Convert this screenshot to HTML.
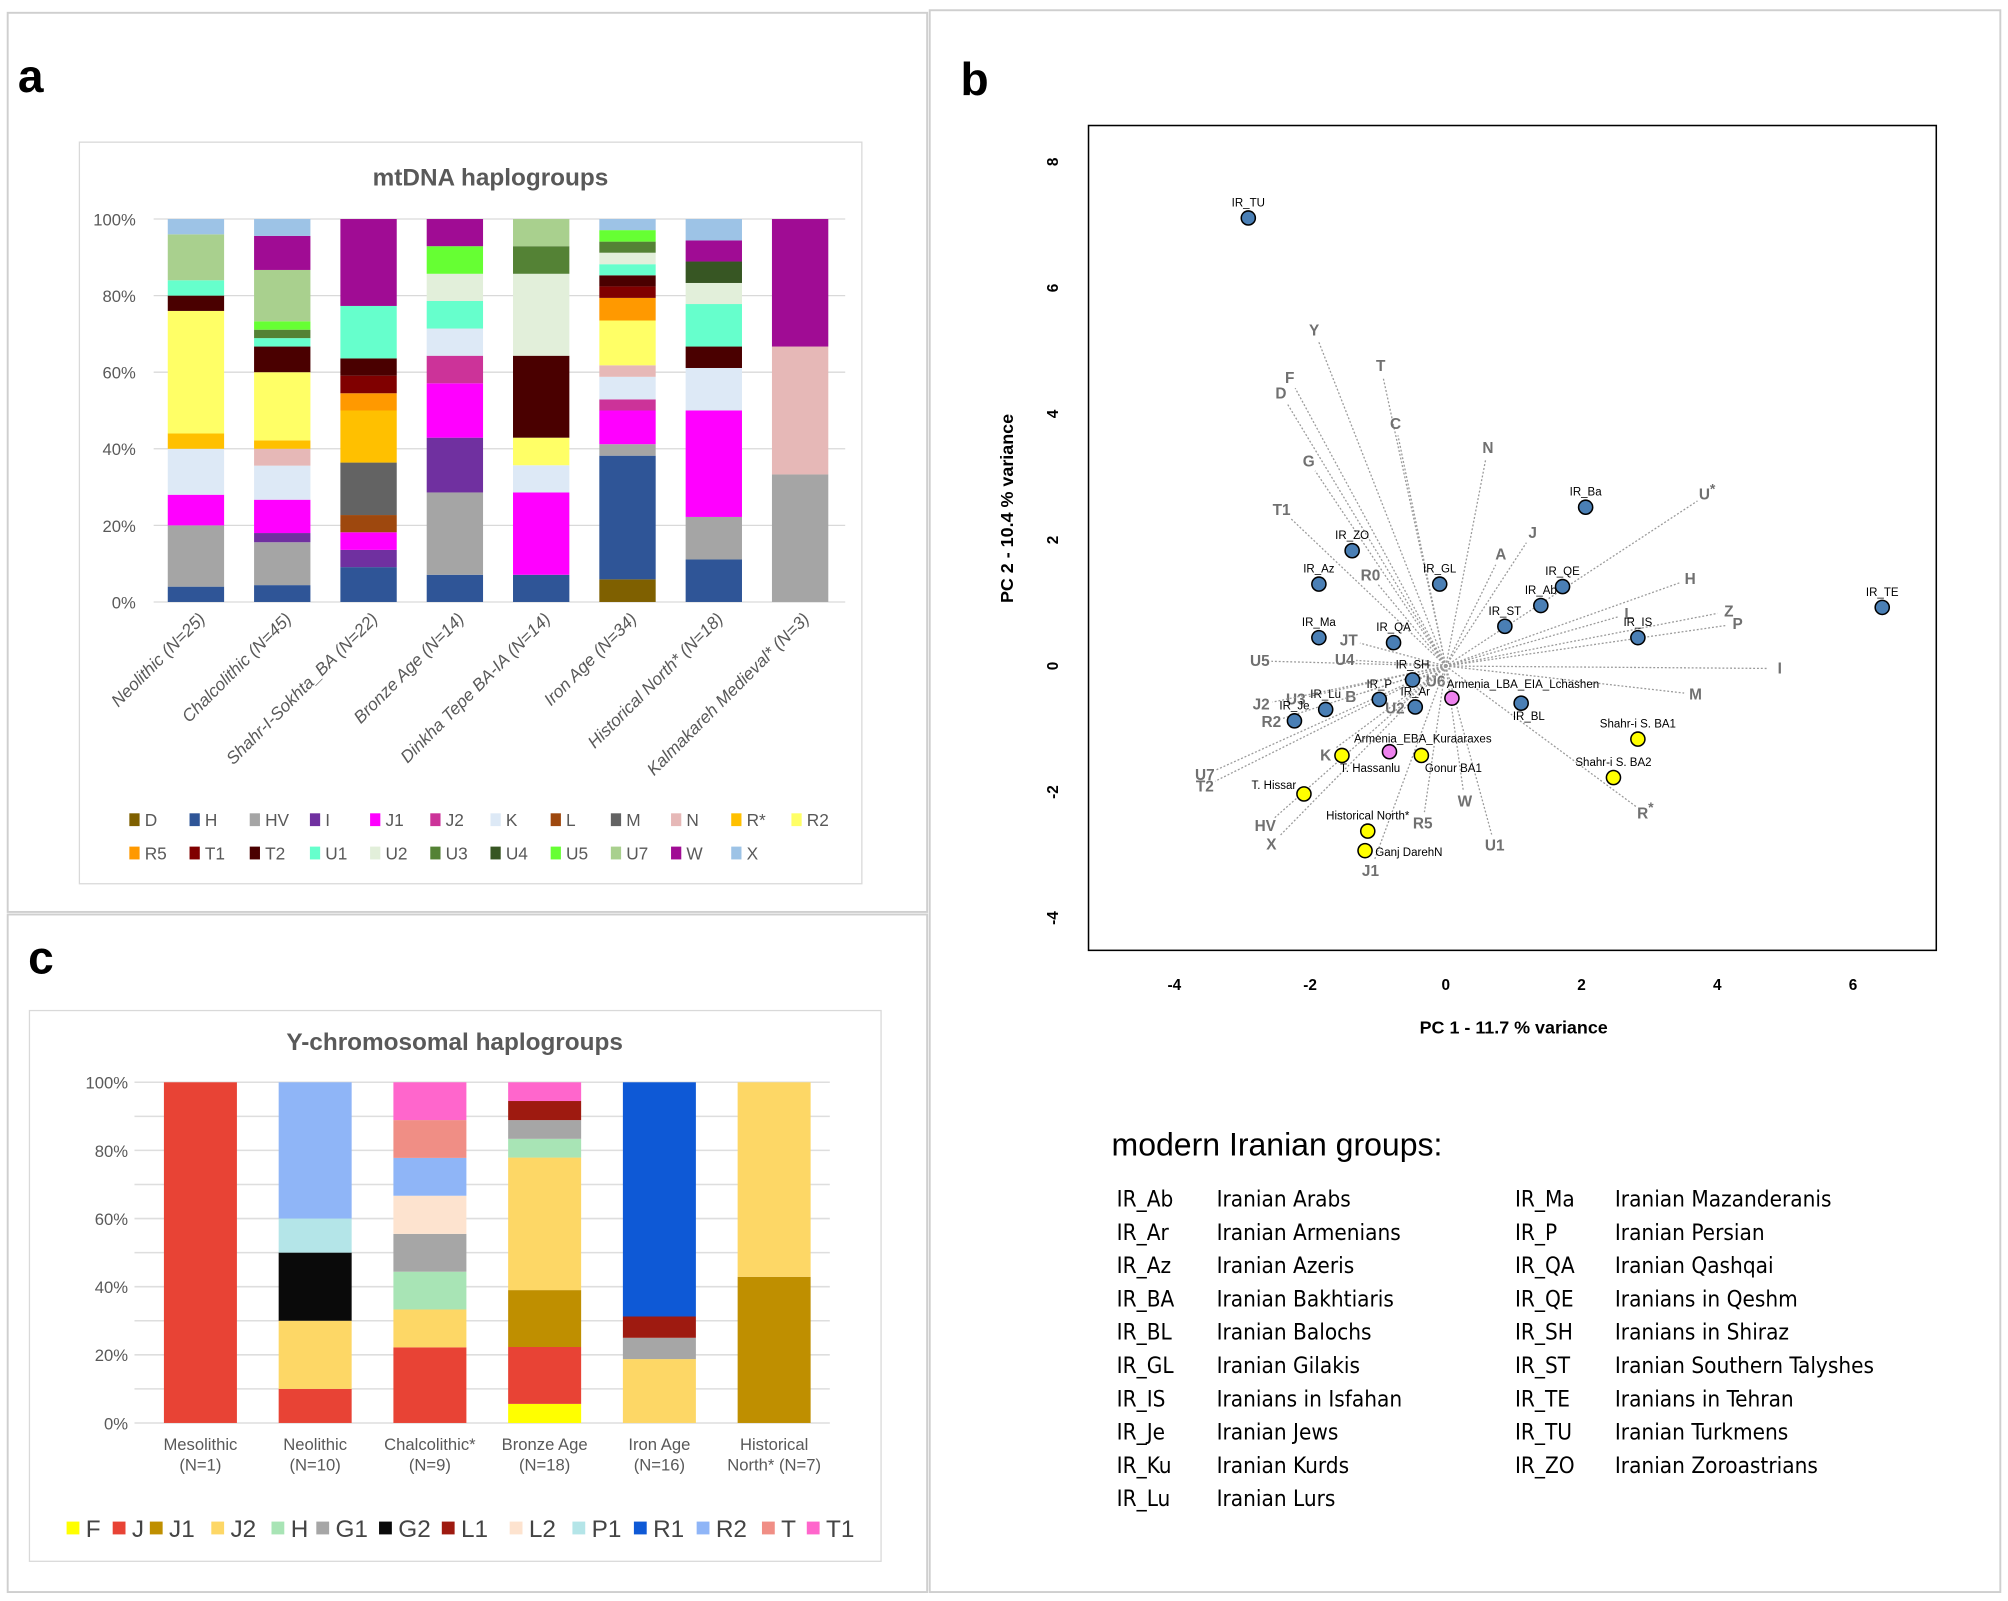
<!DOCTYPE html>
<html><head><meta charset="utf-8">
<style>
html,body{margin:0;padding:0;background:#fff;}
svg{display:block;font-family:"Liberation Sans",sans-serif;}
</style></head>
<body>
<svg id="fig" width="2008" height="1601" viewBox="0 0 1568 1250" preserveAspectRatio="none" xmlns="http://www.w3.org/2000/svg">
<rect x="0" y="0" width="1568" height="1250" fill="#fff"/>
<rect x="6" y="10" width="718" height="702" fill="none" stroke="#cfcfcf" stroke-width="1.5"/>
<rect x="6" y="714" width="718" height="529" fill="none" stroke="#cfcfcf" stroke-width="1.5"/>
<rect x="726" y="8" width="836" height="1235" fill="none" stroke="#cfcfcf" stroke-width="1.5"/>
<text x="14" y="72" font-size="36" font-weight="bold">a</text>
<text x="750" y="74" font-size="36" font-weight="bold">b</text>
<text x="22" y="760" font-size="36" font-weight="bold">c</text>
<rect x="62" y="111" width="611" height="579" fill="#fff" stroke="#d9d9d9"/>
<text x="383" y="145" font-size="19" font-weight="bold" fill="#595959" text-anchor="middle">mtDNA haplogroups</text>
<rect x="23" y="789" width="665" height="430" fill="#fff" stroke="#d9d9d9"/>
<text x="355" y="820" font-size="19" font-weight="bold" fill="#595959" text-anchor="middle">Y-chromosomal haplogroups</text>
<g id="ga"></g><g id="gc"></g><g id="gb"></g>
<rect x="850" y="98" width="662" height="644" fill="none" stroke="#000" stroke-width="1.2"/>
<text x="1182" y="807" font-size="14" font-weight="bold" text-anchor="middle">PC 1 -  11.7 % variance</text>
<text x="791" y="397" font-size="14" font-weight="bold" text-anchor="middle" transform="rotate(-90 791 397)">PC 2 -  10.4 % variance</text>
<text x="868" y="902" font-size="25">modern Iranian groups:</text>
<g id="gl"></g>
</svg>
<script>
const NS='http://www.w3.org/2000/svg';
function mk(tag,attrs,parent,txt){const e=document.createElementNS(NS,tag);for(const k in attrs)e.setAttribute(k,attrs[k]);if(txt!==undefined)e.textContent=txt;parent.appendChild(e);return e;}

// ---------- Panel a data ----------
const mtCategories=['Neolithic (N=25)','Chalcolithic (N=45)','Shahr-I-Sokhta_BA (N=22)','Bronze Age (N=14)','Dinkha Tepe BA-IA (N=14)','Iron Age (N=34)','Historical North* (N=18)','Kalmakareh Medieval* (N=3)'];
const mtGroups=['D','H','HV','I','J1','J2','K','L','M','N','R*','R2','R5','T1','T2','U1','U2','U3','U4','U5','U7','W','X'];
const mtColors=['#7f6000','#2f5597','#a5a5a5','#7030a0','#ff00ff','#cc3399','#dde9f6','#9e480e','#636363','#e6b8b7','#ffc000','#ffff66','#ff9900','#800000','#4a0000','#66ffcc','#e2efda','#548235','#375623','#66ff33','#a9d08e','#a00c94','#9dc3e6'];
const mtValues=[
[0,0,0,0,0,5.9,0,0],
[4,4.4,9.1,7.1,7.1,32.3,11.1,0],
[16,11.2,0,21.5,0,3,11.1,33.3],
[0,2.4,4.5,14.3,0,0,0,0],
[8,8.7,4.6,14.2,21.5,8.8,27.8,0],
[0,0,0,7.2,0,2.9,0,0],
[12,8.9,0,7.1,7.1,5.9,11.1,0],
[0,0,4.5,0,0,0,0,0],
[0,0,13.7,0,0,0,0,0],
[0,4.4,0,0,0,3,0,33.4],
[4,2.2,13.6,0,0,0,0,0],
[32,17.8,0,0,7.2,11.7,0,0],
[0,0,4.5,0,0,5.9,0,0],
[0,0,4.6,0,0,3,0,0],
[4,6.7,4.5,0,21.4,2.9,5.6,0],
[4,2.2,13.7,7.2,0,2.9,11.1,0],
[0,0,0,7.1,21.4,3,5.5,0],
[0,2.2,0,0,7.2,2.9,0,0],
[0,0,0,0,0,0,5.6,0],
[0,2.2,0,7.2,0,3,0,0],
[12,13.4,0,0,7.1,0,0,0],
[0,8.9,22.7,7.1,0,0,5.5,33.3],
[4,4.4,0,0,0,2.9,5.6,0]];
const mtTicks=['0%','20%','40%','60%','80%','100%'];

// ---------- Panel c data ----------
const yCategories=[['Mesolithic','(N=1)'],['Neolithic','(N=10)'],['Chalcolithic*','(N=9)'],['Bronze Age','(N=18)'],['Iron Age','(N=16)'],['Historical','North* (N=7)']];
const yGroups=['F','J','J1','J2','H','G1','G2','L1','L2','P1','R1','R2','T','T1'];
const yColors=['#ffff00','#e84335','#bf8f00','#fdd766','#a8e4b5','#a6a6a6','#0a0a0a','#9e1a10','#fde3cf','#b4e5e8','#0e59d6','#8fb5f7','#f08e85','#ff66cc'];
const yValues=[
[0,0,0,5.6,0,0],
[100,10,22.2,16.7,0,0],
[0,0,0,16.7,0,42.9],
[0,20,11.1,38.9,18.75,57.1],
[0,0,11.1,5.5,0,0],
[0,0,11.1,5.5,6.25,0],
[0,20,0,0,0,0],
[0,0,0,5.6,6.25,0],
[0,0,11.2,0,0,0],
[0,10,0,0,0,0],
[0,0,0,0,68.75,0],
[0,40,11.1,0,0,0],
[0,0,11.1,0,0,0],
[0,0,11.1,5.5,0,0]];
const yTicks=['0%','20%','40%','60%','80%','100%'];

// ---------- Panel b data ----------
const popNames=['IR_TU','IR_Ba','IR_ZO','IR_Az','IR_GL','IR_QE','IR_Ab','IR_ST','IR_IS','IR_TE','IR_Ma','IR_QA','IR_SH','IR_P','IR_Ar','IR_Lu','IR_Je','IR_BL','Armenia_LBA_EIA_Lchashen','Armenia_EBA_Kuraaraxes','Shahr-i S. BA1','Shahr-i S. BA2','T. Hassanlu','Gonur BA1','T. Hissar','Historical North*','Ganj DarehN'];
const popPC1=[-2.91,2.06,-1.38,-1.87,-0.09,1.72,1.40,0.87,2.83,6.43,-1.87,-0.77,-0.49,-0.98,-0.45,-1.77,-2.23,1.11,0.09,-0.83,2.83,2.47,-1.53,-0.36,-2.09,-1.15,-1.19];
const popPC2=[7.11,2.52,1.83,1.30,1.30,1.26,0.96,0.63,0.45,0.93,0.45,0.37,-0.22,-0.53,-0.65,-0.69,-0.87,-0.59,-0.51,-1.36,-1.16,-1.77,-1.42,-1.42,-2.03,-2.62,-2.93];
const popType=['m','m','m','m','m','m','m','m','m','m','m','m','m','m','m','m','m','m','a','a','y','y','y','y','y','y','y'];
const loadNames=['Y','T','F','D','C','N','G','T1','U*','J','A','R0','H','L','Z','P','JT','U5','U4','I','U6','M','B','U3','J2','U2','R2','K','U7','T2','W','R*','R5','HV','X','U1','J1'];
const loadPC1=[-1.94,-0.96,-2.30,-2.43,-0.74,0.62,-2.02,-2.42,3.85,1.28,0.81,-1.11,3.60,2.70,4.17,4.30,-1.43,-2.74,-1.49,4.92,-0.15,3.68,-1.40,-2.21,-2.72,-0.75,-2.57,-1.77,-3.55,-3.55,0.28,2.94,-0.34,-2.66,-2.57,0.72,-1.11];
const loadPC2=[5.33,4.76,4.57,4.33,3.84,3.46,3.25,2.48,2.72,2.11,1.77,1.44,1.38,0.83,0.87,0.67,0.41,0.08,0.10,-0.04,-0.24,-0.45,-0.49,-0.53,-0.61,-0.67,-0.89,-1.42,-1.73,-1.91,-2.15,-2.34,-2.50,-2.54,-2.83,-2.85,-3.25];
const xTickVals=[-4,-2,0,2,4,6];
const yTickVals=[-4,-2,0,2,4,6,8];

const groupCodes=['IR_Ab','IR_Ar','IR_Az','IR_BA','IR_BL','IR_GL','IR_IS','IR_Je','IR_Ku','IR_Lu','IR_Ma','IR_P','IR_QA','IR_QE','IR_SH','IR_ST','IR_TE','IR_TU','IR_ZO'];
const groupNames=['Iranian Arabs','Iranian Armenians','Iranian Azeris','Iranian Bakhtiaris','Iranian Balochs','Iranian Gilakis','Iranians in Isfahan','Iranian Jews','Iranian Kurds','Iranian Lurs','Iranian Mazanderanis','Iranian Persian','Iranian Qashqai','Iranians in Qeshm','Iranians in Shiraz','Iranian Southern Talyshes','Iranians in Tehran','Iranian Turkmens','Iranian Zoroastrians'];

// ---------- draw panel a ----------
const ga=document.getElementById('ga');
const ya=p=>470-p*2.99;
const xa=i=>153+i*67.4;
mtTicks.forEach((t,k)=>{
  const v=k*20;
  const ln=mk('line',{x1:120,x2:660,y1:ya(v),y2:ya(v),stroke:'#d9d9d9','stroke-width':1},ga);
  
  
  const tx=mk('text',{x:106,y:ya(v)+5,'font-size':13,fill:'#595959','text-anchor':'end'},ga,t);
  
  
});
mtCategories.forEach((c,i)=>{
  let cum=0;
  mtGroups.forEach((g,j)=>{
    const v=mtValues[j][i];
    if(v<=0)return;
    const r=mk('rect',{x:xa(i)-22,y:ya(cum+v),width:44,height:v*2.99,fill:mtColors[j]},ga);
    
    
    cum+=v;
  });
  const cx=xa(i)+8, cy=484;
  const lb=mk('text',{x:cx,y:cy,'font-size':13.5,'font-style':'italic',fill:'#595959','text-anchor':'end',transform:`rotate(-45 ${cx} ${cy})`},ga,c);
  
  
});
mtGroups.forEach((g,j)=>{
  const row=j<12?0:1, col=j<12?j:j-12;
  const x=101+col*47, y=row?671:645;
  const s=mk('rect',{x:x,y:y-10,width:8,height:10,fill:mtColors[j]},ga);
  
  
  const t=mk('text',{x:x+12,y:y,'font-size':13.5,fill:'#595959'},ga,g);
  
  
});

// ---------- draw panel c ----------
const gc=document.getElementById('gc');
const yc=p=>1111-p*2.66;
const xc=i=>156.5+i*89.6;
for(let v=0;v<=100;v+=10){
  const ln=mk('line',{x1:105,x2:648,y1:yc(v),y2:yc(v),stroke:'#dedede','stroke-width':1.2},gc);
  
  
}
yTicks.forEach((t,k)=>{
  const tx=mk('text',{x:100,y:yc(k*20)+5,'font-size':13,fill:'#595959','text-anchor':'end'},gc,t);
  
  
});
yCategories.forEach((c,i)=>{
  let cum=0;
  yGroups.forEach((g,j)=>{
    const v=yValues[j][i];
    if(v<=0)return;
    const r=mk('rect',{x:xc(i)-28.5,y:yc(cum+v),width:57,height:v*2.66,fill:yColors[j]},gc);
    
    
    cum+=v;
  });
  const t1=mk('text',{x:xc(i),y:1132,'font-size':13,fill:'#595959','text-anchor':'middle'},gc,c[0]);
  
  
  const t2=mk('text',{x:xc(i),y:1148,'font-size':13,fill:'#595959','text-anchor':'middle'},gc,c[1]);
  
  
});
const yLegX=[52,88,117,165,212,247,296,345,398,447,495,544,595,630];
yGroups.forEach((g,j)=>{
  const x=yLegX[j];
  const s=mk('rect',{x:x,y:1188,width:10,height:10,fill:yColors[j]},gc);
  
  
  const t=mk('text',{x:x+15,y:1200,'font-size':19,fill:'#444'},gc,g);
  
  
});

// ---------- draw panel b ----------
const gb=document.getElementById('gb');
const xb=v=>1129+v*53;
const yb=v=>520-v*49.2;
xTickVals.forEach(v=>{
  const t=mk('text',{x:xb(v),y:773,'font-size':12,'font-weight':'bold','text-anchor':'middle'},gb,String(v));
  
  
});
yTickVals.forEach(v=>{
  const t=mk('text',{x:826,y:yb(v),'font-size':12,'font-weight':'bold','text-anchor':'middle',transform:`rotate(-90 826 ${yb(v)})`},gb,String(v));
  
  
});
loadNames.forEach((n,k)=>{
  const lx=xb(loadPC1[k]), ly=yb(loadPC2[k]);
  const ox=xb(0), oy=yb(0);
  const d=Math.hypot(lx-ox,ly-oy), f=(d-9)/d;
  const ln=mk('line',{x1:ox,y1:oy,x2:ox+(lx-ox)*f,y2:oy+(ly-oy)*f,stroke:'#9a9a9a','stroke-width':1,'stroke-dasharray':'1.5,1.5'},gb);
  
  
  const star=n.endsWith('*');
  const t=mk('text',{x:lx,y:ly+4,'font-size':12,'font-weight':'bold',fill:'#707070','text-anchor':'middle'},gb,star?n.slice(0,-1):n);
  if(star){mk('tspan',{dy:-5,'font-size':11},t,'*');}
  
  
});
const popColors={m:'#4a7fb5',a:'#ee82ee',y:'#ffff00'};
const popLab={'T. Hassanlu':[22,13,'middle'],'Gonur BA1':[25,13,'middle'],'T. Hissar':[-6,-4,'end'],'Ganj DarehN':[8,4,'start'],'Armenia_LBA_EIA_Lchashen':[-4,-8,'start'],'Armenia_EBA_Kuraaraxes':[26,-7,'middle'],'IR_BL':[6,13,'middle']};
popNames.forEach((n,k)=>{
  const x=xb(popPC1[k]), y=yb(popPC2[k]);
  const c=mk('circle',{cx:x,cy:y,r:5.5,fill:popColors[popType[k]],stroke:'#000','stroke-width':1.2},gb);
  
  
  const o=popLab[n]||[0,-9,'middle'];
  const t=mk('text',{x:x+o[0],y:y+o[1],'font-size':9,'text-anchor':o[2]},gb,n);
  
  
});
const om=mk('circle',{cx:xb(0),cy:yb(0),r:3,fill:'none',stroke:'#999','stroke-width':0.8,'stroke-dasharray':'1,1'},gb);



// ---------- groups list ----------
const gl=document.getElementById('gl');
groupCodes.forEach((c,i)=>{
  const col=i<10?0:1, row=i<10?i:i-10;
  const y=942+row*26;
  const t1=mk('text',{x:col?1183:872,y:y,'font-size':17.5,'font-family':'"DejaVu Sans Condensed","DejaVu Sans",sans-serif'},gl,c);
  
  
  const t2=mk('text',{x:col?1261:950,y:y,'font-size':17.5,'font-family':'"DejaVu Sans Condensed","DejaVu Sans",sans-serif'},gl,groupNames[i]);
  
  
});
</script>
</body></html>
